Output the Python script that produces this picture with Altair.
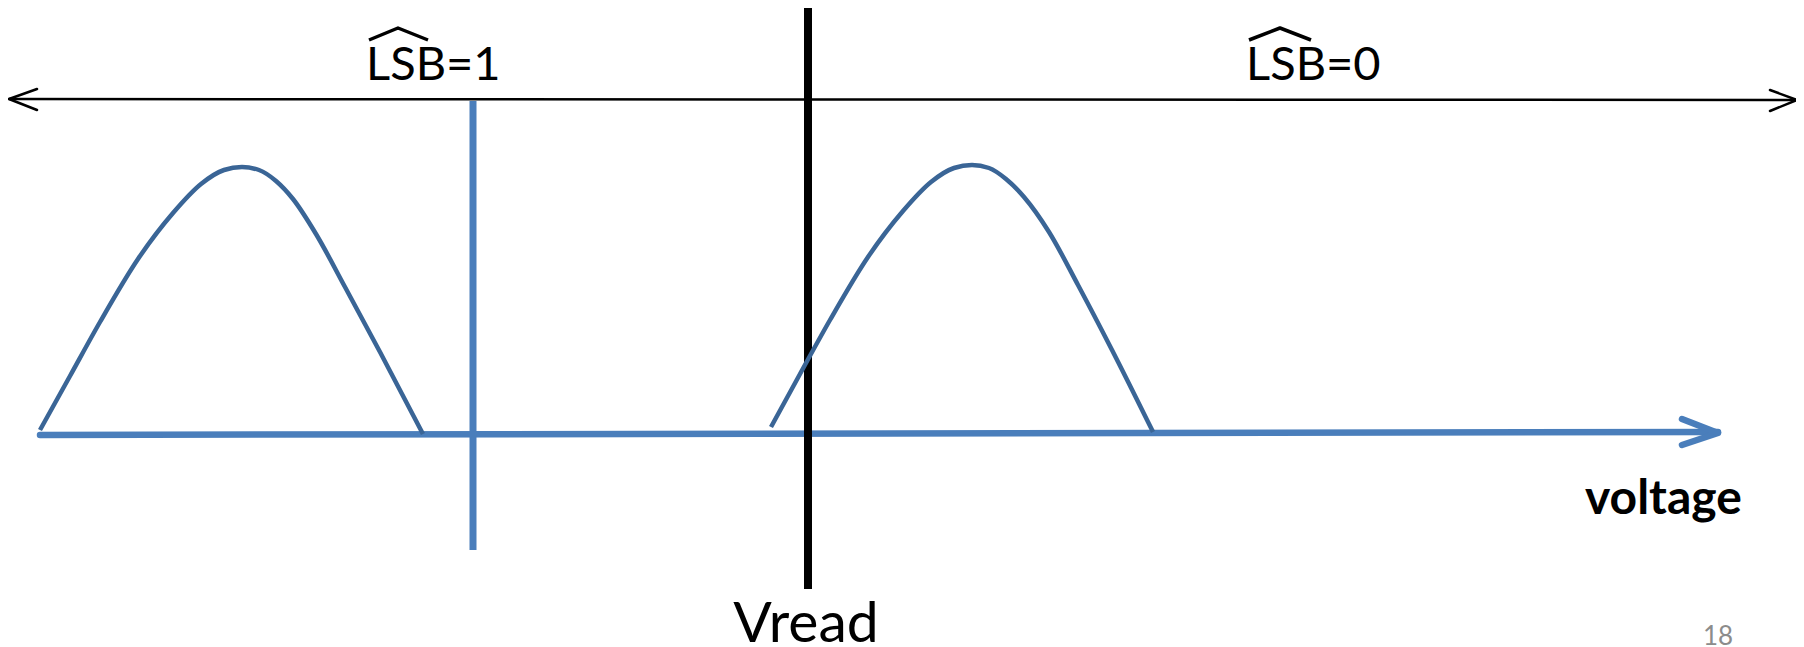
import altair as alt
import pandas as pd

# ---- data (picture pixel units) ----
left_curve_x = [40, 70, 100, 138, 173, 201, 224, 242, 259, 276, 293, 316, 345, 380, 423]
left_curve_y = [430, 376, 322, 259, 213, 184, 170, 167, 170, 181, 199, 234, 287, 352, 434]
right_curve_x = [771, 800, 830, 868, 903, 931, 954, 972, 989, 1006, 1024, 1049, 1078, 1112, 1153]
right_curve_y = [427, 374, 320, 257, 211, 182, 168, 165, 168, 179, 197, 232, 285, 350, 432]

axis_x = [40, 1718]
axis_y = [435, 432]
axis_head_x = [1682, 1718, 1682]
axis_head_y = [419, 433, 445]

top_x = [9, 1797]
top_y = [99, 100]
top_lhead_x = [37, 9, 37]
top_lhead_y = [89, 99, 110]
top_rhead_x = [1770, 1797, 1770]
top_rhead_y = [90, 100, 111]

blue_rule_x = [473]
blue_rule_y = [101]
blue_rule_y2 = [550]
vread_rule_x = [808]
vread_rule_y = [8]
vread_rule_y2 = [589]

hat1_x = [369, 398, 428]
hat0_x = [1249, 1280, 1311]
hat_y = [40, 28, 40]

lsb_labels = ["LSB=1", "LSB=0"]
lsb_x = [366, 1246]
lsb_y = [80, 80]

vread_label = ["Vread"]
vread_lx = [806]
vread_ly = [642]

volt_label = ["voltage"]
volt_x = [1585]
volt_y = [514]

page_label = ["18"]
page_x = [1703]
page_y = [645]

# ---- build tables ----
def poly(xs, ys, name):
    return pd.DataFrame({"x": xs, "y": ys, "seg": name, "i": list(range(len(xs)))})

curves = pd.concat([poly(left_curve_x, left_curve_y, "L"), poly(right_curve_x, right_curve_y, "R")])
blue_lines = pd.concat([poly(axis_x, axis_y, "axis"), poly(axis_head_x, axis_head_y, "head")])
black_lines = pd.concat([poly(top_x, top_y, "shaft"), poly(top_lhead_x, top_lhead_y, "lh"),
                         poly(top_rhead_x, top_rhead_y, "rh")])
hats = pd.concat([poly(hat1_x, hat_y, "h1"), poly(hat0_x, hat_y, "h0")])

xs = alt.Scale(domain=[8, 1796], zero=False, nice=False)
ys = alt.Scale(domain=[8, 647], zero=False, nice=False, reverse=True)
X = lambda f="x": alt.X(f"{f}:Q", scale=xs, axis=None)
Y = lambda f="y": alt.Y(f"{f}:Q", scale=ys, axis=None)

def lines(df, color, width, cap="butt"):
    return alt.Chart(df).mark_line(color=color, strokeWidth=width, strokeCap=cap, strokeJoin="round").encode(
        x=X(), y=Y(), detail="seg:N", order="i:Q")

black_arrow = lines(black_lines, "black", 2.5, "round")
blue_axis = lines(blue_lines, "#4a7ebb", 6.5, "round")

blue_rule = alt.Chart(pd.DataFrame({"x": blue_rule_x, "y": blue_rule_y, "y2": blue_rule_y2})).mark_rule(
    color="#4a7ebb", strokeWidth=7).encode(x=X(), y=Y(), y2="y2:Q")
vread_rule = alt.Chart(pd.DataFrame({"x": vread_rule_x, "y": vread_rule_y, "y2": vread_rule_y2})).mark_rule(
    color="black", strokeWidth=8).encode(x=X(), y=Y(), y2="y2:Q")

curve_layer = alt.Chart(curves).mark_line(color="#3a6596", strokeWidth=4.5, interpolate="monotone").encode(
    x=X(), y=Y(), detail="seg:N", order="i:Q")

hat_layer = lines(hats, "black", 3.5, "butt")

lsb_text = alt.Chart(pd.DataFrame({"x": lsb_x, "y": lsb_y, "t": lsb_labels})).mark_text(
    align="left", baseline="alphabetic", font="Lato", fontSize=47, color="black").encode(
    x=X(), y=Y(), text="t:N")
vread_text = alt.Chart(pd.DataFrame({"x": vread_lx, "y": vread_ly, "t": vread_label})).mark_text(
    align="center", baseline="alphabetic", font="Lato", fontSize=57, color="black").encode(
    x=X(), y=Y(), text="t:N")
volt_text = alt.Chart(pd.DataFrame({"x": volt_x, "y": volt_y, "t": volt_label})).mark_text(
    align="left", baseline="alphabetic", font="Lato", fontWeight="bold", fontSize=48, color="black").encode(
    x=X(), y=Y(), text="t:N")
page_text = alt.Chart(pd.DataFrame({"x": page_x, "y": page_y, "t": page_label})).mark_text(
    align="left", baseline="alphabetic", font="Lato", fontSize=26, color="#8c8c8c").encode(
    x=X(), y=Y(), text="t:N")

chart = alt.layer(
    black_arrow, blue_axis, blue_rule, vread_rule, curve_layer, hat_layer,
    lsb_text, vread_text, volt_text, page_text
).properties(
    width=1788, height=639, padding=0, autosize=alt.AutoSizeParams(type="none"), background="white"
).configure_view(stroke=None)

chart.save("out.html", embed_options={"renderer": "svg", "actions": False})
